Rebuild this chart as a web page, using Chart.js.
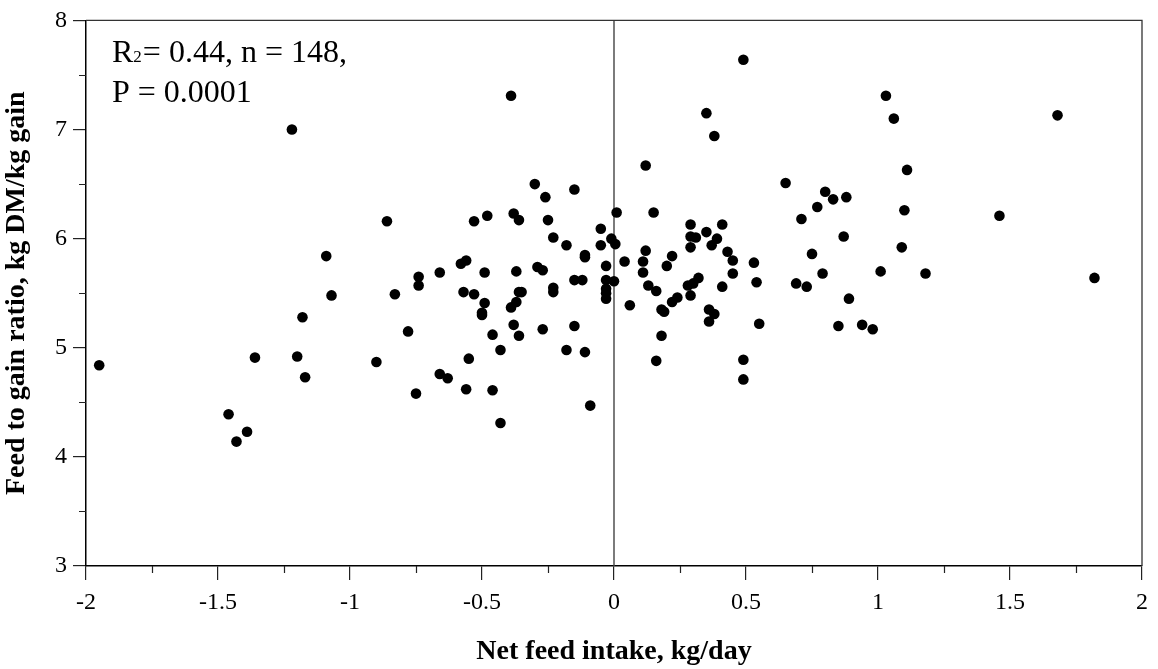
<!DOCTYPE html>
<html>
<head>
<meta charset="utf-8">
<script src="https://cdn.jsdelivr.net/npm/chart.js@4.4.1/dist/chart.umd.min.js"></script>
<style>
  html, body { margin: 0; padding: 0; background: #fff; }
  #wrap { width: 1158px; height: 669px; }
</style>
</head>
<body>
<div id="wrap"><canvas id="chart" width="1158" height="669"></canvas></div>
<script>
// Net feed intake (kg/day) vs feed to gain ratio
const nfi = [
  -1.95, -1.36, -1.20, -1.17, -1.07, -1.18, -0.90, -1.46, -1.39, -1.43, -1.22, -1.09, -0.39,
  -0.30, -0.15, -0.26, -0.86, -0.53, -0.48, -0.38, -0.36, -0.25, 0.01, -0.23, -0.18, -0.05,
  -0.05, -0.01, 0.005, -0.11, -0.11, -0.03, -0.58, -0.56, -0.66, -0.49, -0.37, -0.29, -0.27,
  -0.74, -0.74, -0.83, -0.57, -0.53, -0.49, -0.50, -0.50, -0.36, -0.35, -0.37, -0.39, -0.23,
  -0.23, -0.15, -0.12, -0.03, 0.00, -0.03, -0.03, -0.03, -0.78, -0.38, -0.36, -0.46, -0.27,
  -0.15, -0.43, -0.18, -0.11, -0.55, -0.66, -0.63, -0.75, -0.56, -0.46, -0.09, -0.43,
  0.12, 0.65, 0.80, 0.83, 0.88, 0.77, 0.71, 0.87, 0.15, 0.29, 0.41, 0.35, 0.29, 0.31, 0.39,
  0.37, 0.29, 0.12, 0.43, 0.45, 0.53, 0.04, 0.11, 0.22, 0.20, 0.11, 0.45, 0.54, 0.32, 0.30,
  0.28, 0.13, 0.16, 0.41, 0.29, 0.24, 0.22, 0.06, 0.18, 0.19, 0.36, 0.38, 0.36, 0.69, 0.73,
  0.75, 0.79, 0.89, 1.01, 0.55, 0.85, 0.94, 0.98, 0.18, 0.16, 0.49, 0.49,
  1.03, 1.06, 1.11, 1.10, 1.09, 1.18, 1.46, 1.68, 1.82,
  0.49, 0.35, 0.38
];
const feedGain = [
  4.84, 4.91, 4.92, 4.73, 5.48, 5.28, 4.87, 4.39, 4.23, 4.14, 7.00, 5.84, 7.31,
  6.50, 6.45, 6.38, 6.16, 6.16, 6.21, 6.23, 6.17, 6.17, 6.24, 6.01, 5.94, 6.09,
  5.94, 6.00, 5.95, 5.85, 5.83, 5.75, 5.77, 5.80, 5.69, 5.69, 5.70, 5.74, 5.71,
  5.65, 5.57, 5.49, 5.51, 5.49, 5.41, 5.32, 5.30, 5.51, 5.51, 5.42, 5.37, 5.55,
  5.51, 5.62, 5.62, 5.62, 5.61, 5.54, 5.50, 5.45, 5.15, 5.21, 5.11, 5.12, 5.17,
  5.20, 4.98, 4.98, 4.96, 4.90, 4.76, 4.72, 4.58, 4.62, 4.61, 4.47, 4.31,
  6.67, 6.51, 6.43, 6.36, 6.38, 6.29, 6.18, 6.02, 6.24, 6.13, 6.13, 6.06, 6.02, 6.01, 6.00,
  5.94, 5.92, 5.89, 5.88, 5.80, 5.78, 5.79, 5.79, 5.84, 5.75, 5.69, 5.68, 5.60, 5.64, 5.59,
  5.57, 5.57, 5.52, 5.56, 5.48, 5.46, 5.42, 5.39, 5.35, 5.33, 5.35, 5.31, 5.24, 5.59, 5.56,
  5.86, 5.68, 5.45, 5.70, 5.22, 5.20, 5.21, 5.17, 5.11, 4.88, 4.89, 4.71,
  7.31, 7.10, 6.63, 6.26, 5.92, 5.68, 6.21, 7.13, 5.64,
  7.64, 7.15, 6.94
];

const xTicks = [-2, -1.5, -1, -0.5, 0, 0.5, 1, 1.5, 2];
const xTickLabels = ['-2', '-1.5', '-1', '-0.5', '0', '0.5', '1', '1.5', '2'];
const xMinorTicks = [-1.75, -1.25, -0.75, -0.25, 0.25, 0.75, 1.25, 1.75];
const yTicks = [3, 4, 5, 6, 7, 8];
const yTickLabels = ['3', '4', '5', '6', '7', '8'];
const yMinorTicks = [3.5, 4.5, 5.5, 6.5, 7.5];
const zeroLine = [{ x: 0, y: 3 }, { x: 0, y: 8 }];

const SERIF = "'Liberation Serif', 'Times New Roman', serif";

// box round the plot, minor ticks, and the R2 note
const framePlugin = {
  id: 'frame',
  afterDraw(chart) {
    const { ctx, chartArea: a, scales } = chart;
    ctx.save();
    ctx.strokeStyle = '#333';
    ctx.lineWidth = 1.3;
    ctx.beginPath();
    ctx.moveTo(a.left, a.top); ctx.lineTo(a.right, a.top); ctx.lineTo(a.right, a.bottom);
    ctx.stroke();

    ctx.strokeStyle = '#222';
    ctx.lineWidth = 1.2;
    ctx.beginPath();
    xMinorTicks.forEach(v => {
      const px = Math.round(scales.x.getPixelForValue(v)) + 0.5;
      ctx.moveTo(px, a.bottom); ctx.lineTo(px, a.bottom + 7);
    });
    yMinorTicks.forEach(v => {
      const py = Math.round(scales.y.getPixelForValue(v)) + 0.5;
      ctx.moveTo(a.left, py); ctx.lineTo(a.left - 7, py);
    });
    ctx.stroke();

    // R2 note
    ctx.fillStyle = '#000';
    ctx.textBaseline = 'alphabetic';
    ctx.textAlign = 'left';
    let x = a.left + 26;
    const y1 = 62, y2 = 102;
    ctx.font = '32px ' + SERIF;
    ctx.fillText('R', x, y1);
    x += ctx.measureText('R').width;
    ctx.font = '17px ' + SERIF;
    ctx.fillText('2', x, y1);
    x += ctx.measureText('2').width + 1;
    ctx.font = '32px ' + SERIF;
    ctx.fillText('= 0.44, n = 148,', x, y1);
    ctx.fillText('P = 0.0001', a.left + 26, y2);
    ctx.restore();
  }
};

new Chart(document.getElementById('chart'), {
  type: 'scatter',
  data: {
    datasets: [
      {
        type: 'line',
        data: zeroLine,
        borderColor: '#444',
        borderWidth: 1.4,
        pointRadius: 0,
        fill: false,
        order: 2
      },
      {
        data: nfi.map((v, i) => ({ x: v, y: feedGain[i] })),
        backgroundColor: '#000',
        borderWidth: 0,
        pointRadius: 5.3,
        order: 1
      }
    ]
  },
  options: {
    responsive: false,
    animation: false,
    events: [],
    layout: { padding: { top: 17, right: 16, left: 0, bottom: 0 } },
    plugins: { legend: { display: false }, tooltip: { enabled: false } },
    scales: {
      x: {
        type: 'linear',
        min: -2, max: 2,
        afterBuildTicks: s => { s.ticks = xTicks.map(v => ({ value: v })); },
        afterFit: s => { s.height = 103; },
        grid: { drawOnChartArea: false, drawTicks: true, tickLength: 14, color: '#222', lineWidth: 1.2 },
        border: { display: true, color: '#000', width: 1.5 },
        ticks: {
          color: '#000',
          font: { family: SERIF, size: 24 },
          padding: 8,
          maxRotation: 0,
          callback: v => xTickLabels[xTicks.indexOf(v)]
        },
        title: {
          display: true,
          text: 'Net feed intake, kg/day',
          color: '#000',
          font: { family: SERIF, size: 28, weight: 'bold' },
          padding: 0
        }
      },
      y: {
        type: 'linear',
        min: 3, max: 8,
        afterBuildTicks: s => { s.ticks = yTicks.map(v => ({ value: v })); },
        afterFit: s => { s.width = 86; },
        grid: { drawOnChartArea: false, drawTicks: true, tickLength: 13, color: '#222', lineWidth: 1.2 },
        border: { display: true, color: '#000', width: 1.5 },
        ticks: {
          color: '#000',
          font: { family: SERIF, size: 24 },
          padding: 6,
          callback: v => yTickLabels[yTicks.indexOf(v)]
        },
        title: {
          display: true,
          text: 'Feed to gain ratio, kg DM/kg gain',
          color: '#000',
          font: { family: SERIF, size: 28, weight: 'bold' },
          padding: 0
        }
      }
    }
  },
  plugins: [framePlugin]
});
</script>
</body>
</html>
